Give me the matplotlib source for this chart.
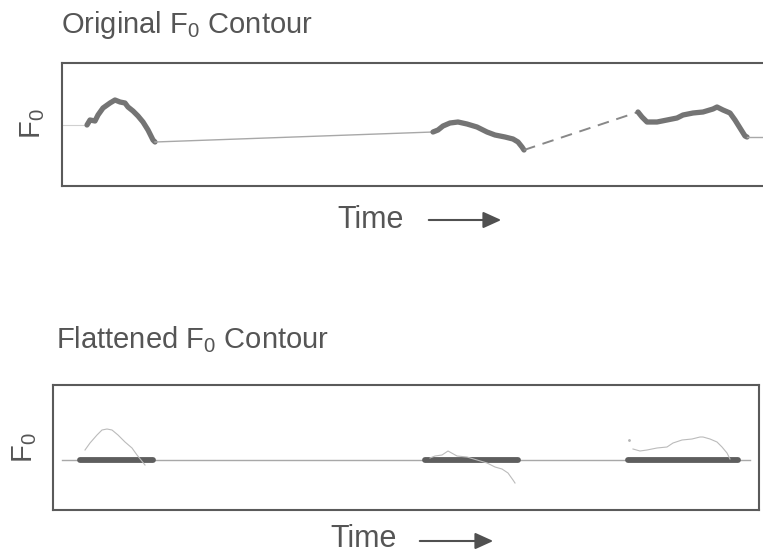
import numpy as np
import matplotlib
matplotlib.use('Agg')
from matplotlib import pyplot as plt

plt.rcParams['font.family'] = ['Liberation Sans', 'DejaVu Sans']
plt.rcParams['mathtext.default'] = 'regular'

W, H = 763, 555

## original contour (time units, F0 units)
t1 = [25, 28, 33, 36, 41, 48, 53, 58, 63, 66, 71, 76, 81, 86, 91, 93]
f1 = [61, 66, 65, 71, 78, 83, 86, 84, 83, 79, 75, 70, 64, 56, 46, 44]
t2 = [371, 376, 381, 388, 396, 405, 415, 425, 433, 443, 451, 456, 460, 462]
f2 = [54, 56, 60, 63, 64, 62, 59, 54, 51, 49, 47, 44, 39, 36]
t3 = [576, 580, 585, 595, 605, 615, 621, 631, 641, 651, 655, 661, 668, 673, 678, 683, 685]
f3 = [74, 69, 64, 64, 66, 68, 71, 73, 74, 77, 79, 76, 73, 66, 58, 50, 49]

## flattened contour
flat_level = 50
flat_spans = [(27, 100), (372, 465), (575, 685)]
baseline_span = (9, 697)
g1_t = [32, 37, 44, 49, 54, 59, 65, 72, 79, 84, 88, 92]
g1_f = [60, 67, 75, 80, 81, 80, 75, 68, 62, 55, 50, 45]
g2_t = [377, 382, 389, 395, 404, 414, 424, 434, 442, 449, 455, 460, 462]
g2_f = [52, 54, 55, 59, 54, 53, 50, 47, 43, 41, 37, 30, 27]
g3_t = [580, 587, 594, 604, 614, 620, 629, 639, 647, 650, 657, 664, 669, 674, 677]
g3_f = [61, 59, 60, 62, 63, 67, 70, 71, 73, 73, 71, 68, 63, 57, 51]

txt = '#555555'
thick = '#747474'
thin = '#a8a8a8'

fig = plt.figure(figsize=(W / 100, H / 100), dpi=100)

def box(l, t, r, b):
    ax = fig.add_axes([l / W, 1 - b / H, (r - l) / W, (b - t) / H])
    ax.set_xticks([])
    ax.set_yticks([])
    for s in ax.spines.values():
        s.set_color('#5a5a5a')
        s.set_linewidth(1.5)
    return ax

# top panel
ax = box(62, 63, 765, 186)
ax.set_xlim(0, 703)
ax.set_ylim(0, 123)
ax.plot([0, t1[0]], [f1[0], f1[0]], color='#d0d0d0', lw=0.8)
ax.plot(t1, f1, color=thick, lw=3.8, solid_capstyle='round', solid_joinstyle='round')
ax.plot([t1[-1], t2[0]], [f1[-1], f2[0]], color=thin, lw=1.0)
ax.plot(t2, f2, color=thick, lw=3.8, solid_capstyle='round', solid_joinstyle='round')
ax.plot([t2[-1], t3[0]], [f2[-1], f3[0]], color='#888888', lw=1.4, dashes=(6, 4))
ax.plot(t3, f3, color=thick, lw=3.8, solid_capstyle='round', solid_joinstyle='round')
ax.plot([t3[-1], 703], [f3[-1], f3[-1]], color=thin, lw=1.0)

# bottom panel
ax2 = box(53, 385, 759, 510)
ax2.set_xlim(0, 706)
ax2.set_ylim(0, 125)
ax2.plot(baseline_span, [flat_level, flat_level], color=thin, lw=1.0)
for a, b in flat_spans:
    ax2.plot([a, b], [flat_level, flat_level], color='#5e5e5e', lw=4.2, solid_capstyle='round')
for tt, ff in [(g1_t, g1_f), (g2_t, g2_f), (g3_t, g3_f)]:
    ax2.plot(tt, ff, color='#bbbbbb', lw=0.8)
ax2.plot([576], [70], marker='.', ms=2, color='#b5b5b5')

# text
def px(x, y):
    return x / W, 1 - y / H

fig.text(*px(61, 33), 'Original F$_0$ Contour', fontsize=21, color=txt, va='baseline')
fig.text(*px(56, 348), 'Flattened F$_0$ Contour', fontsize=21, color=txt, va='baseline')
fig.text(*px(33, 124), 'F$_0$', fontsize=21, color=txt, rotation=90, ha='center', va='center')
fig.text(*px(25, 448), 'F$_0$', fontsize=21, color=txt, rotation=90, ha='center', va='center')

for (x0, yb, a0, a1, ya) in [(337, 228, 426, 504, 220), (330, 547, 417, 496, 541)]:
    fig.text(*px(x0, yb), 'Time', fontsize=22, color=txt, va='baseline')
    fig.add_artist(matplotlib.patches.FancyArrowPatch(
        px(a0, ya), px(a1, ya), transform=fig.transFigure,
        arrowstyle='-|>,head_length=11,head_width=5', color='#505050', lw=1.5,
        mutation_scale=1))

fig.savefig('out.png', dpi=100)
